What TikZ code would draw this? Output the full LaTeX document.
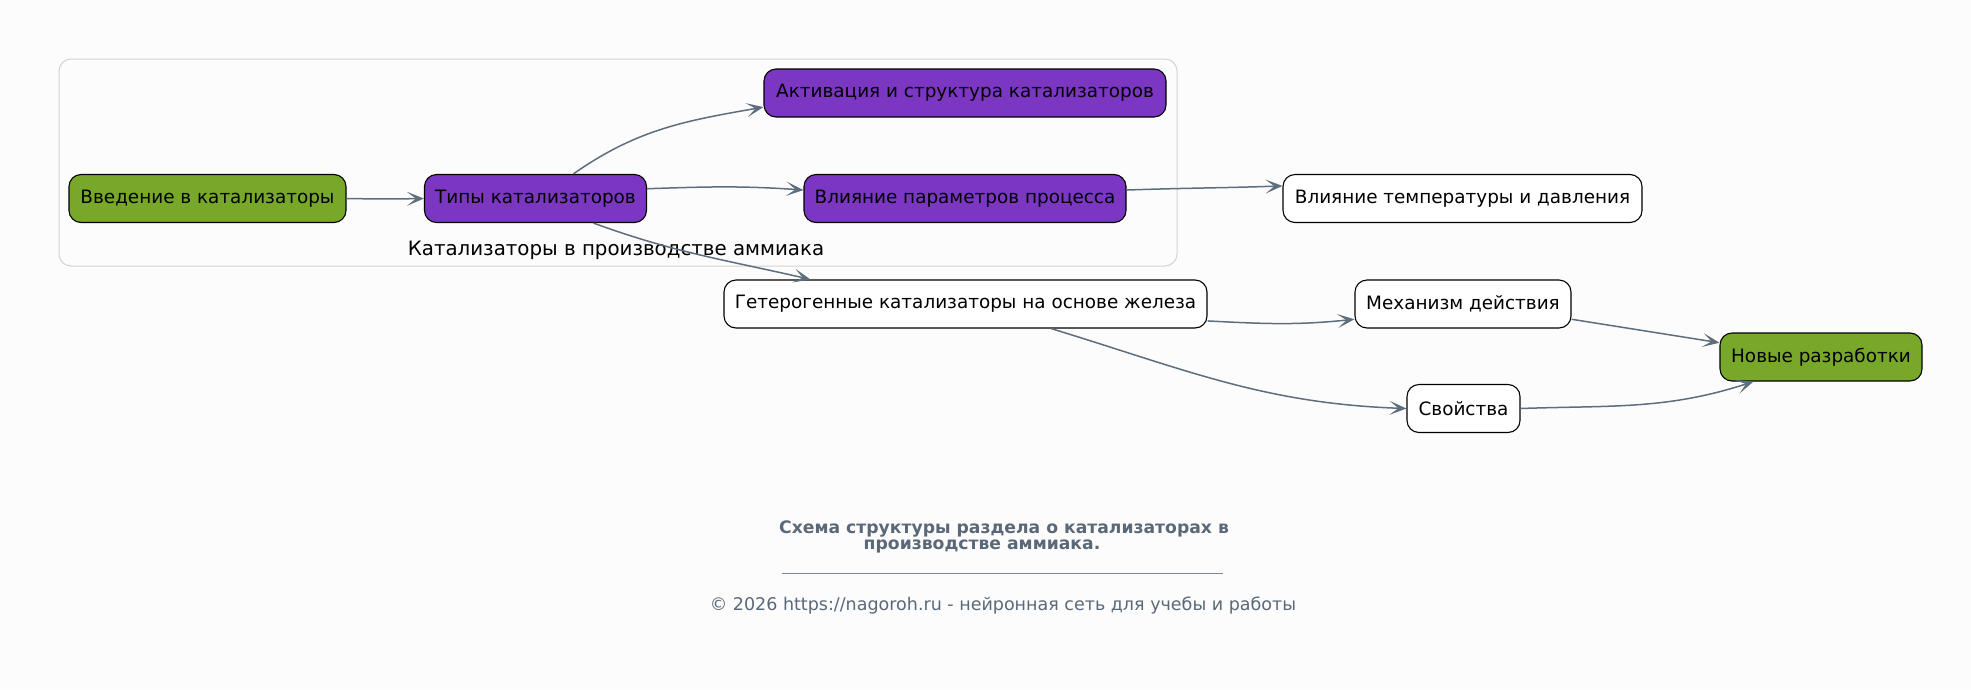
\documentclass[tikz,border=0pt]{standalone}
\usepackage{fontspec}
\setmainfont{DejaVu Sans}
\usetikzlibrary{arrows.meta}
\definecolor{bgc}{HTML}{FCFCFC}
\definecolor{grn}{HTML}{78A82A}
\definecolor{prp}{HTML}{7B36C2}
\definecolor{edg}{HTML}{5F6E7D}
\definecolor{ttl}{HTML}{5A6878}
\definecolor{clb}{HTML}{D3D3D3}
\tikzset{
  box/.style={draw=black, line width=1.1pt, rounded corners=12pt, minimum height=48pt,
    inner sep=0pt, font=\fontsize{18.4}{21}\selectfont, text=black},
  gbox/.style={box, fill=grn},
  pbox/.style={box, fill=prp},
  wbox/.style={box, fill=white},
  conn/.style={draw=edg, line width=1.5pt, -{Stealth[length=17pt,width=14pt,inset=9pt]}},
}
\begin{document}
\begin{tikzpicture}[x=1pt,y=-1pt]
\fill[bgc] (0,0) rectangle (1971,689);
\useasboundingbox (0,0) rectangle (1971,689);
\draw[clb, line width=1pt, rounded corners=12pt] (59,59) rectangle (1177,266);
\node[font=\fontsize{19.8}{22}\selectfont] (cl) at (616,250) {Катализаторы в производстве аммиака};

\node[gbox, minimum width=277pt] (intro) at (207.5,198.5) {Введение в катализаторы};
\node[pbox, minimum width=222pt] (types) at (535.5,198.5) {Типы катализаторов};
\node[pbox, minimum width=402pt] (act) at (965,93) {Активация и структура катализаторов};
\node[pbox, minimum width=322pt] (infl) at (965,198.5) {Влияние параметров процесса};
\node[wbox, minimum width=359pt] (temp) at (1462.5,198.5) {Влияние температуры и давления};
\node[wbox, minimum width=483pt] (het) at (965.5,304) {Гетерогенные катализаторы на основе железа};
\node[wbox, minimum width=216pt] (mech) at (1463,304) {Механизм действия};
\node[wbox, minimum width=113pt] (prop) at (1463.5,408.5) {Свойства};
\node[gbox, minimum width=202pt] (new) at (1821,357) {Новые разработки};

\draw[conn] (intro.east) to[out=-1,in=181] (types.west);
\draw[conn] (types.33) to[out=35,in=190] (act.184.6);
\draw[conn] (types.5) to[out=2,in=176] (infl.177.5);
\draw[conn] (types.-23) to[out=-20,in=167] (het.171);
\draw[conn] (infl.3) to[out=2,in=182] (temp.176);
\draw[conn] (het.-4) to[out=-3,in=186] (mech.188);
\draw[conn] (het.-16) to[out=-17,in=178] (prop.west);
\draw[conn] (mech.-8) -- (new.172);
\draw[conn] (prop.east) to[out=2,in=198] (new.200);

\node[font=\bfseries\fontsize{17.2}{19}\selectfont, text=ttl] (t1) at (1004,529) {Схема структуры раздела о катализаторах в};
\node[font=\bfseries\fontsize{17.2}{19}\selectfont, text=ttl] (t2) at (982,546) {производстве аммиака.};
\draw[ttl!80, line width=0.9pt] (782,573) -- (1223,573);
\node[font=\fontsize{17.5}{19}\selectfont, text=ttl] (cp) at (1003,606) {© 2026 https://nagoroh.ru - нейронная сеть для учебы и работы};
\end{tikzpicture}
\end{document}
